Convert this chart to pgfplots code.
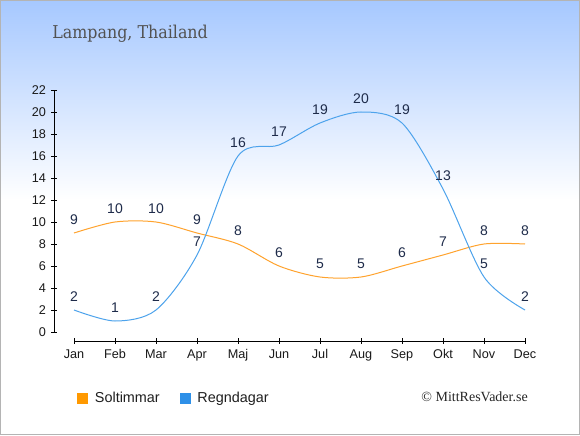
\documentclass[border=0pt]{standalone}
\usepackage{pgfplots}
\pgfplotsset{compat=1.18}
\usepackage{fontspec}
\setmainfont{Liberation Sans}
\newfontfamily\titlefont{DejaVu Serif Condensed}
\newfontfamily\copyfont{Liberation Serif}
\definecolor{sol}{HTML}{FFA32E}
\definecolor{regn}{HTML}{4DA3EC}
\definecolor{solsq}{HTML}{FF9900}
\definecolor{regnsq}{HTML}{2E90E8}
\definecolor{lbl}{HTML}{1E2B4A}
\definecolor{bgtop}{HTML}{A6C8FF}
\definecolor{frame}{HTML}{B4B4B4}
\begin{document}
\begin{tikzpicture}
% background
\fill[white] (0,0) rectangle (435pt,326.25pt);
\shade[top color=bgtop, bottom color=white] (0,176.25pt) rectangle (435pt,326.25pt);
\draw[frame, line width=0.75pt] (0.375pt,0.375pt) rectangle (434.625pt,325.875pt);
\node[anchor=base west, text=black!68, inner sep=0pt, font=\titlefont\fontsize{13.25}{15}\selectfont] at (39pt,297pt) {Lampang, Thailand};
\begin{axis}[
  at={(55.5pt,77.25pt)}, anchor=south west,
  scale only axis, width=338.25pt, height=181.5pt,
  xmin=0, xmax=11, ymin=0, ymax=22,
  clip=false,
  axis x line=bottom, axis y line=left,
  axis x line shift=6.75pt, axis y line shift=15pt,
  axis line style={-, black, line width=0.6pt},
  xtick={0,...,11},
  xticklabels={Jan,Feb,Mar,Apr,Maj,Jun,Jul,Aug,Sep,Okt,Nov,Dec},
  ytick={0,2,...,22},
  tick align=center, major tick length=4pt,
  tick style={black, line width=0.6pt},
  ticklabel style={font=\fontsize{9.5}{11}\selectfont, text=black!90},
  /pgf/number format/assume math mode=true,
  xticklabel style={yshift=-1pt},
  yticklabel style={xshift=-0.5pt},
  nodes near coords,
  every node near coord/.append style={anchor=center, yshift=10.2pt, text=lbl, font=\fontsize{10.5}{12}\selectfont},
  legend columns=2,
  legend style={at={(0.0067,-0.273)}, anchor=west, draw=none, fill=none, inner sep=0pt,
    font=\fontsize{10.8}{12}\selectfont, text=black!88,
    /tikz/every odd column/.append style={column sep=3pt},
    /tikz/every even column/.append style={column sep=13pt}},
  legend cell align=left,
  legend image code/.code={\path[#1, draw=none, fill] (0pt,-3.75pt) rectangle (7.5pt,3.75pt);},
]
\addplot[color=sol, line width=0.75pt, smooth, tension=0.5, legend image code/.code={\fill[solsq] (0pt,-3.75pt) rectangle (7.5pt,3.75pt);}] coordinates {
(0,9) (1,10) (2,10) (3,9) (4,8) (5,6) (6,5) (7,5) (8,6) (9,7) (10,8) (11,8)};
\addlegendentry{Soltimmar}
\addplot[color=regn, line width=0.75pt, smooth, tension=0.5, legend image code/.code={\fill[regnsq] (0pt,-3.75pt) rectangle (7.5pt,3.75pt);}] coordinates {
(0,2) (1,1) (2,2) (3,7) (4,16) (5,17) (6,19) (7,20) (8,19) (9,13) (10,5) (11,2)};
\addlegendentry{Regndagar}
\end{axis}
\node[anchor=east, inner sep=0pt, text=black!85, font=\copyfont\fontsize{10.5}{12}\selectfont] at (396pt,28.5pt) {© MittResVader.se};
\end{tikzpicture}
\end{document}
